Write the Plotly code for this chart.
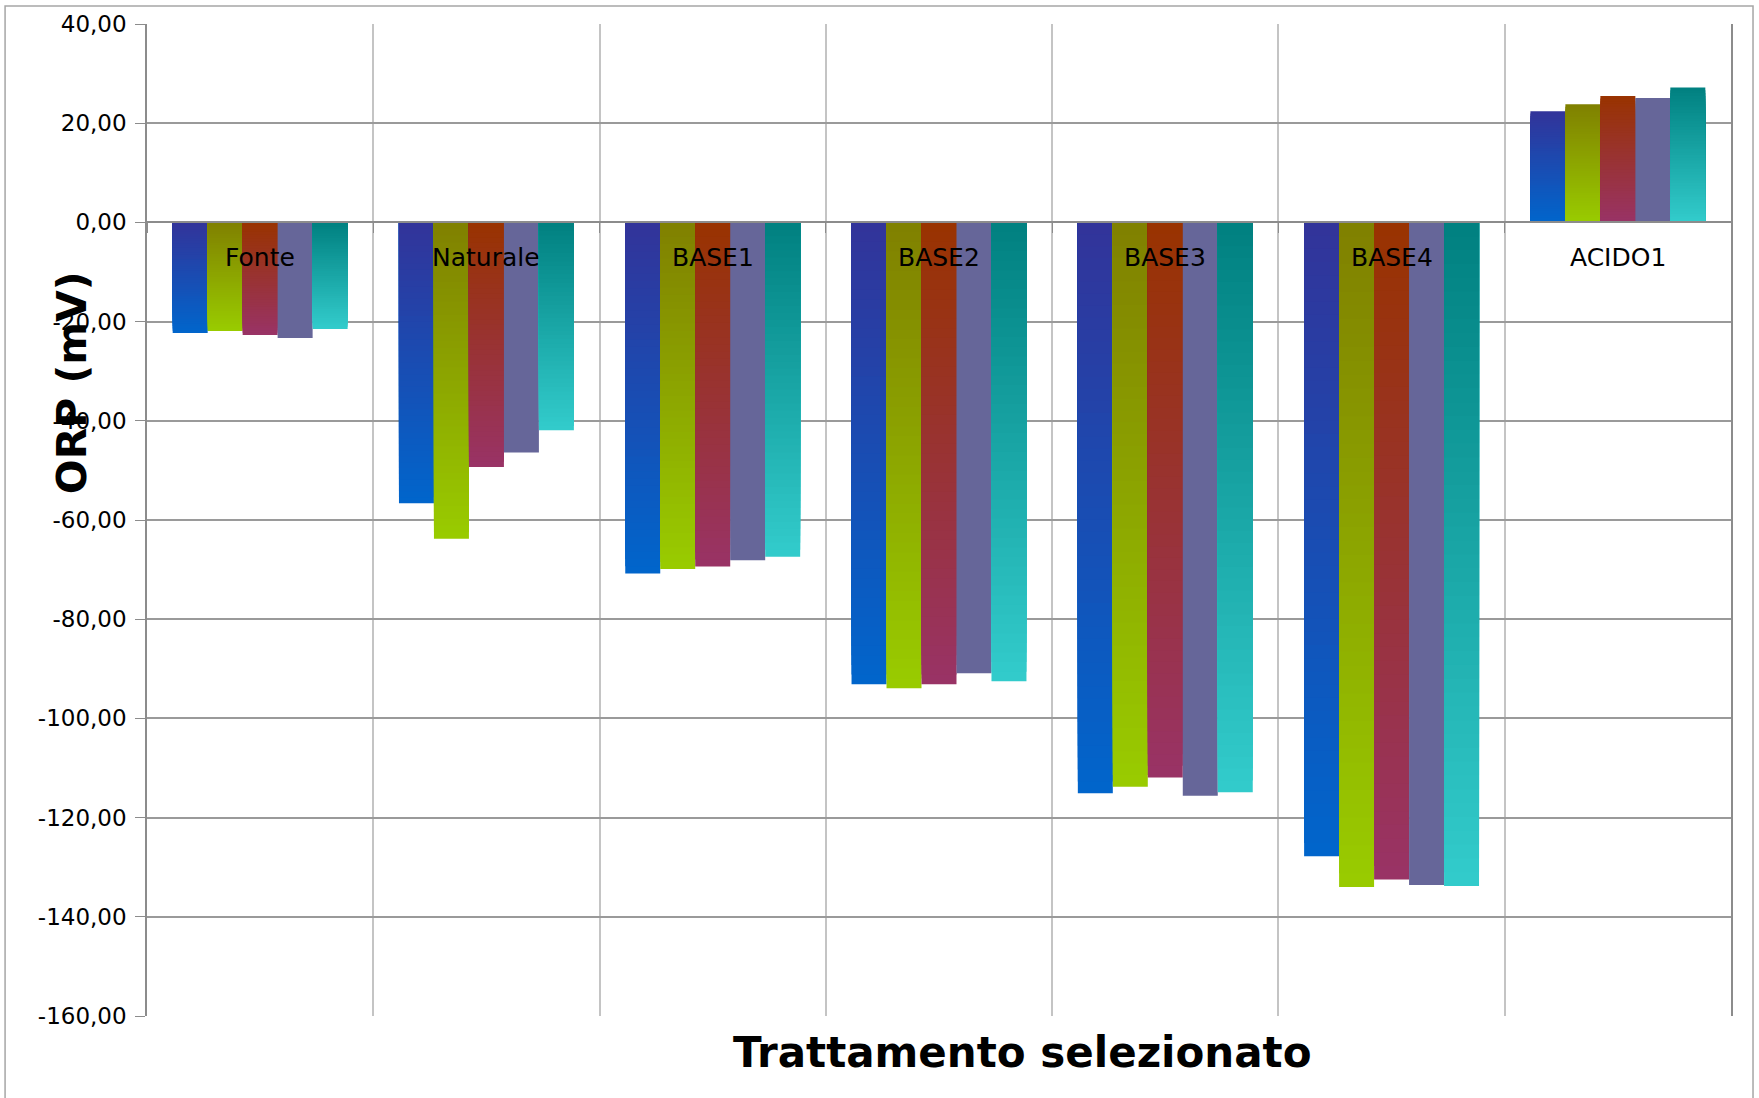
import plotly.graph_objects as go

# ORP readings (mV) per treatment, five repeated measurements
categories = ["Fonte", "Naturale", "BASE1", "BASE2", "BASE3", "BASE4", "ACIDO1"]
serie_1 = [-22.3, -56.6, -70.8, -93.1, -115.1, -127.8, 22.4]
serie_2 = [-21.9, -63.8, -69.9, -93.9, -113.8, -134.0, 23.8]
serie_3 = [-22.7, -49.3, -69.4, -93.1, -111.9, -132.5, 25.5]
serie_4 = [-23.3, -46.4, -68.1, -90.9, -115.6, -133.6, 25.1]
serie_5 = [-21.5, -41.9, -67.4, -92.5, -114.9, -133.8, 27.2]

y_ticks = [40, 20, 0, -20, -40, -60, -80, -100, -120, -140, -160]
y_ticktext = [f"{v:.2f}".replace(".", ",") for v in y_ticks]

series = [serie_1, serie_2, serie_3, serie_4, serie_5]
# (top colour, bottom colour) of each bar's vertical gradient
gradients = [
    ("#333399", "#0066CC"),
    ("#808000", "#99CC00"),
    ("#993300", "#993366"),
    ("#666699", "#666699"),
    ("#008080", "#33CCCC"),
]

FONT = "DejaVu Sans"
STEPS = 48          # bands used to render each gradient
LABEL_Y = -7        # category names sit just under the zero line


def hex_rgb(h):
    h = h.lstrip("#")
    return tuple(int(h[i:i + 2], 16) for i in (0, 2, 4))


def mix(c_top, c_bot, t):
    # t = 0 -> top colour, t = 1 -> bottom colour
    a, b = hex_rgb(c_top), hex_rgb(c_bot)
    r, g, bl = (round(a[k] + (b[k] - a[k]) * t) for k in range(3))
    return f"rgb({r},{g},{bl})"


fig = go.Figure()

for s, values in enumerate(series):
    top, bot = gradients[s]
    steps = 1 if top == bot else STEPS
    # Draw progressively shorter bars from zero so that the visible band of
    # each one carries the colour of its own height along the bar.
    for i in range(steps):
        frac = (steps - i) / steps
        f_mid = (steps - i - 0.5) / steps   # position of the band from the zero end
        heights = [v * frac for v in values]
        colors = []
        for v in values:
            t = f_mid if v < 0 else 1 - f_mid
            colors.append(mix(top, bot, t))
        fig.add_trace(go.Bar(
            x=categories,
            y=heights,
            offsetgroup=str(s),
            marker=dict(color=colors, line=dict(width=0)),
            name=f"Serie {s + 1}",
            showlegend=False,
            hoverinfo="skip" if i else "y+name",
        ))

# Category names written next to the zero line
annotations = [
    dict(x=c, y=LABEL_Y, xref="x", yref="y", text=c, showarrow=False,
         font=dict(family=FONT, size=25, color="black"),
         xanchor="center", yanchor="middle")
    for c in categories
]

annotations.append(dict(
    text="<b>ORP (mV)</b>", xref="paper", yref="paper",
    x=-0.0473, y=0.638, textangle=-90, showarrow=False,
    xanchor="center", yanchor="middle",
    font=dict(family=FONT, size=41, color="black"),
))
annotations.append(dict(
    text="<b>Trattamento selezionato</b>", xref="paper", yref="paper",
    x=0.553, y=-0.0363, showarrow=False,
    xanchor="center", yanchor="middle",
    font=dict(family=FONT, size=42, color="black"),
))

fig.update_layout(
    width=1759,
    height=1098,
    margin=dict(l=147, r=28, t=24, b=82),
    paper_bgcolor="white",
    plot_bgcolor="white",
    barmode="group",
    bargap=0.227,
    bargroupgap=0,
    showlegend=False,
    annotations=annotations,
    shapes=[dict(
        type="rect", xref="paper", yref="paper",
        x0=-0.0896, x1=1.0139, y0=-0.09, y1=1.0181,
        line=dict(color="#a6a6a6", width=1.5), layer="below",
    )],
    xaxis=dict(
        type="category",
        categoryorder="array",
        categoryarray=categories,
        range=[-0.5, len(categories) - 0.5],
        anchor="free",
        position=0.8,
        tickson="boundaries",
        ticks="outside",
        ticklen=10,
        tickcolor="#8c8c8c",
        showticklabels=False,
        showgrid=True,
        gridcolor="#c4c4c4",
        gridwidth=1.5,
        showline=True,
        linecolor="#8c8c8c",
        linewidth=1.5,
        zeroline=False,
    ),
    yaxis=dict(
        range=[-160, 40],
        tickvals=y_ticks,
        ticktext=y_ticktext,
        ticks="outside",
        ticklen=10,
        tickcolor="#8c8c8c",
        ticklabelstandoff=4,
        tickfont=dict(family=FONT, size=23, color="black"),
        showgrid=True,
        gridcolor="#9a9a9a",
        gridwidth=1.5,
        showline=True,
        linecolor="#8c8c8c",
        linewidth=1.5,
        mirror=True,
        zeroline=False,
    ),
)

fig.write_html("out.html")
